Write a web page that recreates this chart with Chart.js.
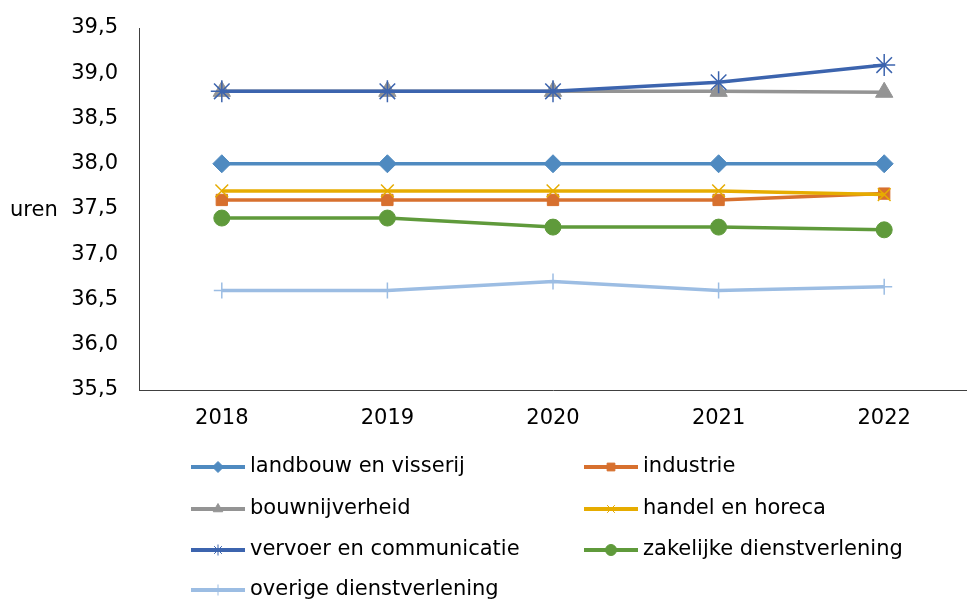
<!DOCTYPE html>
<html>
<head>
<meta charset="utf-8">
<script src="https://cdn.jsdelivr.net/npm/chart.js@4"></script>
<style>
  html, body { margin: 0; padding: 0; background: #fff; }
  #wrap { width: 967px; height: 600px; position: relative; }
</style>
</head>
<body>
<div id="wrap"><canvas id="urenChart" width="967" height="600"></canvas></div>
<script>
// Gemiddelde arbeidsduur per week (uren) per sector
var years = ['2018', '2019', '2020', '2021', '2022'];
var seriesNames = ['landbouw en visserij', 'industrie', 'bouwnijverheid', 'handel en horeca',
                   'vervoer en communicatie', 'zakelijke dienstverlening', 'overige dienstverlening'];
var landbouw = [38.0, 38.0, 38.0, 38.0, 38.0];
var industrie = [37.6, 37.6, 37.6, 37.6, 37.67];
var bouw = [38.8, 38.8, 38.8, 38.8, 38.79];
var handel = [37.7, 37.7, 37.7, 37.7, 37.66];
var vervoer = [38.8, 38.8, 38.8, 38.9, 39.09];
var zakelijk = [37.4, 37.4, 37.3, 37.3, 37.27];
var overig = [36.6, 36.6, 36.7, 36.6, 36.64];
var yTicks = [35.5, 36.0, 36.5, 37.0, 37.5, 38.0, 38.5, 39.0, 39.5];

var allValues = [landbouw, industrie, bouw, handel, vervoer, zakelijk, overig];
var colors = ['#4f8ac0', '#d7702e', '#949494', '#e6ac00', '#3c64ae', '#5f9a3b', '#9cbde3'];
var markers = ['rectRot', 'rect', 'triangle', 'crossRot', 'star', 'circle', 'cross'];
var markerSizes = [9, 8, 10, 9, 11, 8, 8];
var FONT = '"DejaVu Sans", Verdana, sans-serif';
var FS = 21;

var datasets = seriesNames.map(function (name, i) {
    var thin = markers[i] === 'crossRot' || markers[i] === 'star' || markers[i] === 'cross';
    return {
        label: name,
        data: allValues[i],
        borderColor: colors[i],
        backgroundColor: colors[i],
        pointBackgroundColor: colors[i],
        pointBorderColor: colors[i],
        pointStyle: markers[i],
        pointRadius: markerSizes[i],
        pointBorderWidth: thin ? 1.5 : 1,
        borderWidth: 3.5,
        tension: 0,
        order: seriesNames.length - 1 - i
    };
});

// "uren" label and the two-column legend below the plot
var extras = {
    id: 'extras',
    afterDraw: function (chart) {
        var ctx = chart.ctx;
        ctx.save();
        ctx.font = FS + 'px ' + FONT;
        ctx.textBaseline = 'middle';
        ctx.textAlign = 'left';
        ctx.fillStyle = '#000';
        ctx.fillText('uren', 10, 211);

        var cols = [191, 584];
        var rowY = [467, 509, 550, 590];
        chart.data.datasets.forEach(function (ds, i) {
            var x = cols[i % 2];
            var y = rowY[Math.floor(i / 2)];
            ctx.strokeStyle = ds.borderColor;
            ctx.lineWidth = 4;
            ctx.beginPath();
            ctx.moveTo(x, y);
            ctx.lineTo(x + 54, y);
            ctx.stroke();
            ctx.fillStyle = ds.borderColor;
            ctx.lineWidth = 1;
            Chart.helpers.drawPoint(ctx, {
                pointStyle: ds.pointStyle,
                radius: 5.5,
                rotation: 0,
                borderWidth: 1
            }, x + 27, y);
            ctx.fillStyle = '#000';
            ctx.fillText(ds.label, x + 59, y);
        });
        ctx.restore();
    }
};

new Chart(document.getElementById('urenChart').getContext('2d'), {
    type: 'line',
    data: { labels: years, datasets: datasets },
    plugins: [extras],
    options: {
        responsive: false,
        animation: false,
        layout: { autoPadding: false, padding: { top: 28, right: -4, bottom: 160, left: 0 } },
        plugins: { legend: { display: false }, tooltip: { enabled: false } },
        scales: {
            x: {
                offset: true,
                grid: { display: false, drawTicks: false },
                border: { display: true, color: '#404040', width: 1 },
                ticks: { color: '#000', font: { family: FONT, size: FS }, padding: 16 },
                afterFit: function (s) { s.height = 50; s.paddingLeft = 0; s.paddingRight = 0; }
            },
            y: {
                min: 35.5,
                max: 39.5,
                afterBuildTicks: function (s) {
                    s.ticks = yTicks.map(function (v) { return { value: v }; });
                },
                grid: { display: false, drawTicks: false },
                border: { display: true, color: '#404040', width: 1 },
                ticks: {
                    color: '#000',
                    font: { family: FONT, size: FS },
                    padding: 21,
                    callback: function (v) { return Number(v).toFixed(1).replace('.', ','); }
                },
                afterFit: function (s) { s.width = 139; s.paddingTop = 0; s.paddingBottom = 0; }
            }
        }
    }
});
</script>
</body>
</html>
